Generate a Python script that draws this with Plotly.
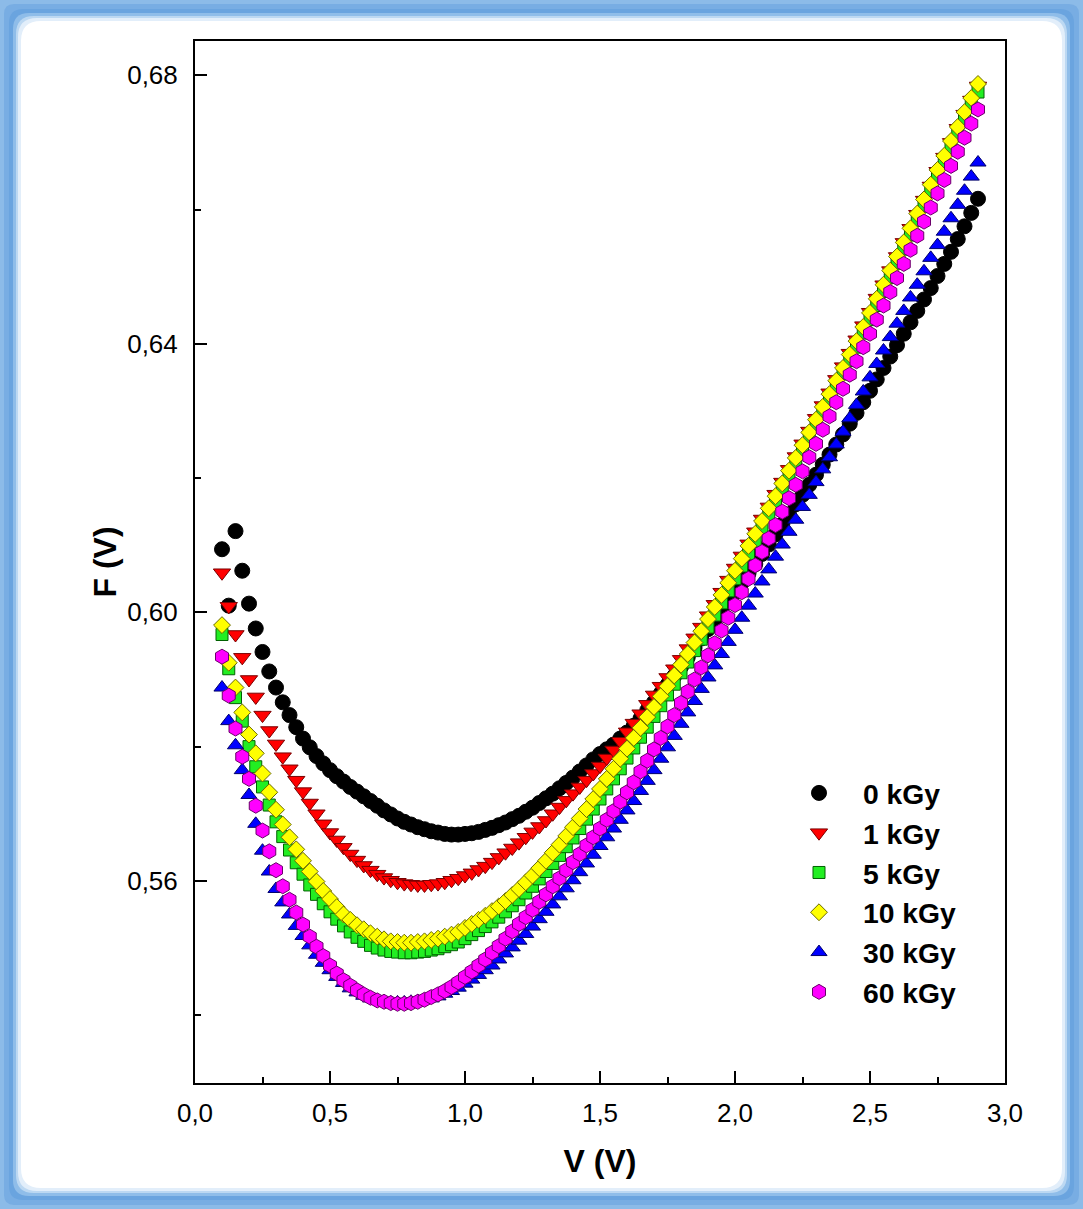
import plotly.graph_objects as go

# ---------------- data ----------------
V_START = 0.1
V_STEP = 0.025

F_0kGy = [
    .6094, .6010, .6121, .6062, .6013, .5976, .5941, .5912, .5888, .5866,
    .5847, .5829, .5812, .5799, .5786, .5775, .5765, .5756, .5748, .5740,
    .5733, .5726, .5719, .5712, .5705, .5699, .5693, .5688, .5684, .5680,
    .5677, .5674, .5672, .5670, .5669, .5669, .5670, .5671, .5673, .5676,
    .5679, .5683, .5687, .5692, .5697, .5703, .5709, .5716, .5723, .5730,
    .5738, .5746, .5754, .5763, .5772, .5781, .5789, .5796, .5803, .5812,
    .5821, .5831, .5842, .5854, .5866, .5879, .5892, .5905, .5919, .5933,
    .5947, .5961, .5975, .5988, .6002, .6016, .6030, .6044, .6058, .6072,
    .6087, .6101, .6116, .6131, .6146, .6161, .6175, .6190, .6205, .6220,
    .6235, .6250, .6265, .6281, .6297, .6313, .6330, .6347, .6364, .6381,
    .6398, .6415, .6432, .6449, .6466, .6483, .6501, .6519, .6537, .6556,
    .6575, .6595, .6616,
]

F_1kGy = [
    .6059, .6009, .5967, .5933, .5900, .5874, .5847, .5824, .5804, .5785,
    .5767, .5750, .5733, .5716, .5700, .5685, .5672, .5661, .5650, .5640,
    .5631, .5623, .5616, .5610, .5605, .5601, .5598, .5596, .5595, .5594,
    .5594, .5595, .5596, .5598, .5601, .5604, .5608, .5612, .5617, .5622,
    .5628, .5635, .5642, .5649, .5657, .5665, .5673, .5681, .5690, .5700,
    .5710, .5720, .5730, .5740, .5750, .5760, .5771, .5783, .5795, .5808,
    .5822, .5835, .5849, .5863, .5877, .5890, .5903, .5916, .5930, .5946,
    .5962, .5978, .5995, .6012, .6030, .6048, .6066, .6084, .6102, .6120,
    .6139, .6157, .6176, .6194, .6213, .6232, .6251, .6270, .6289, .6308,
    .6327, .6347, .6366, .6386, .6406, .6427, .6447, .6468, .6488, .6509,
    .6530, .6551, .6572, .6593, .6614, .6635, .6657, .6678, .6700, .6721,
    .6742, .6763, .6784,
]

F_5kGy = [
    .5967, .5916, .5873, .5838, .5800, .5770, .5740, .5713, .5688, .5666,
    .5646, .5627, .5610, .5594, .5580, .5566, .5554, .5543, .5533, .5524,
    .5516, .5510, .5504, .5500, .5497, .5495, .5494, .5493, .5493, .5494,
    .5495, .5497, .5499, .5502, .5505, .5509, .5514, .5520, .5526, .5532,
    .5539, .5546, .5554, .5563, .5572, .5582, .5592, .5603, .5614, .5626,
    .5638, .5651, .5664, .5678, .5692, .5707, .5722, .5737, .5752, .5767,
    .5783, .5798, .5814, .5829, .5845, .5861, .5877, .5893, .5910, .5926,
    .5943, .5960, .5978, .5996, .6014, .6032, .6050, .6069, .6087, .6106,
    .6125, .6144, .6162, .6181, .6200, .6219, .6238, .6258, .6277, .6296,
    .6316, .6335, .6355, .6375, .6395, .6416, .6436, .6457, .6478, .6499,
    .6520, .6541, .6562, .6584, .6605, .6627, .6648, .6670, .6691, .6712,
    .6733, .6754, .6775,
]

F_10kGy = [
    .5981, .5925, .5888, .5851, .5818, .5790, .5760, .5732, .5706, .5684,
    .5665, .5647, .5630, .5614, .5599, .5585, .5573, .5561, .5550, .5542,
    .5534, .5528, .5522, .5517, .5513, .5510, .5509, .5508, .5508, .5509,
    .5510, .5512, .5514, .5517, .5520, .5524, .5530, .5536, .5542, .5548,
    .5555, .5562, .5570, .5579, .5588, .5598, .5608, .5619, .5630, .5642,
    .5654, .5667, .5680, .5693, .5707, .5722, .5737, .5752, .5767, .5782,
    .5797, .5813, .5828, .5844, .5859, .5875, .5890, .5906, .5922, .5938,
    .5955, .5972, .5990, .6008, .6026, .6044, .6062, .6080, .6099, .6117,
    .6136, .6155, .6173, .6192, .6211, .6230, .6249, .6268, .6287, .6306,
    .6325, .6345, .6364, .6384, .6404, .6425, .6446, .6467, .6488, .6509,
    .6530, .6551, .6572, .6594, .6615, .6637, .6659, .6680, .6702, .6723,
    .6745, .6766, .6787,
]

F_30kGy = [
    .5888, .5838, .5802, .5765, .5728, .5685, .5645, .5614, .5588, .5568,
    .5550, .5533, .5518, .5504, .5490, .5478, .5467, .5457, .5448, .5440,
    .5434, .5429, .5425, .5422, .5420, .5419, .5419, .5419, .5420, .5421,
    .5423, .5425, .5428, .5432, .5436, .5441, .5447, .5453, .5460, .5467,
    .5474, .5483, .5492, .5501, .5511, .5521, .5532, .5543, .5554, .5565,
    .5577, .5589, .5601, .5613, .5626, .5639, .5652, .5665, .5678, .5691,
    .5705, .5719, .5734, .5749, .5765, .5782, .5799, .5816, .5834, .5851,
    .5868, .5886, .5903, .5921, .5938, .5956, .5974, .5992, .6010, .6028,
    .6046, .6064, .6083, .6101, .6120, .6138, .6157, .6175, .6194, .6213,
    .6231, .6250, .6269, .6289, .6309, .6329, .6350, .6370, .6390, .6410,
    .6430, .6449, .6469, .6488, .6508, .6528, .6547, .6567, .6587, .6607,
    .6628, .6649, .6670,
]

F_60kGy = [
    .5934, .5876, .5827, .5785, .5752, .5712, .5675, .5644, .5616, .5592,
    .5572, .5553, .5535, .5517, .5502, .5488, .5474, .5462, .5452, .5444,
    .5437, .5431, .5426, .5422, .5420, .5418, .5417, .5417, .5418, .5420,
    .5423, .5427, .5431, .5436, .5442, .5449, .5457, .5465, .5474, .5483,
    .5493, .5503, .5514, .5525, .5536, .5546, .5557, .5569, .5580, .5592,
    .5604, .5616, .5628, .5640, .5653, .5665, .5678, .5691, .5704, .5718,
    .5732, .5747, .5763, .5779, .5796, .5813, .5830, .5847, .5865, .5882,
    .5900, .5918, .5936, .5954, .5973, .5992, .6011, .6030, .6050, .6070,
    .6090, .6110, .6130, .6150, .6170, .6190, .6210, .6231, .6251, .6272,
    .6292, .6313, .6333, .6354, .6374, .6395, .6415, .6436, .6457, .6477,
    .6498, .6519, .6540, .6561, .6582, .6603, .6624, .6644, .6665, .6686,
    .6707, .6728, .6749,
]

SERIES_NAMES = ["0 kGy", "1 kGy", "5 kGy", "10 kGy", "30 kGy", "60 kGy"]
SERIES_VALUES = [F_0kGy, F_1kGy, F_5kGy, F_10kGy, F_30kGy, F_60kGy]

X_TICK_VALUES = [0.0, 0.5, 1.0, 1.5, 2.0, 2.5, 3.0]
Y_TICK_VALUES = [0.56, 0.60, 0.64, 0.68]

# ---------------- styles ----------------
STYLES = [
    dict(symbol="circle", size=15, color="#000000", line="#000000"),
    dict(symbol="triangle-down", size=15, color="#ff0000", line="#7a0000"),
    dict(symbol="square", size=12, color="#22ee22", line="#006000"),
    dict(symbol="diamond", size=13, color="#ffff00", line="#6a6a00"),
    dict(symbol="triangle-up", size=14, color="#0000ff", line="#00006a"),
    dict(symbol="hexagon", size=15, color="#ff00ff", line="#6a006a"),
]

FONT = "Arial, Liberation Sans, sans-serif"

W, H = 1083, 1209
L, R, T, B = 195, 1005, 41, 1083  # plot area in pixels

fig = go.Figure()

for i, (name, vals, st) in enumerate(zip(SERIES_NAMES, SERIES_VALUES, STYLES)):
    xs = [round(V_START + V_STEP * k, 3) for k in range(len(vals))]
    fig.add_trace(go.Scatter(
        x=xs, y=vals, mode="markers", name=name,
        legendgroup=f"g{i}",
        marker=dict(symbol=st["symbol"], size=st["size"], color=st["color"],
                    line=dict(color=st["line"], width=1)),
    ))


def px2paper_x(px):
    return (px - L) / (R - L)


def px2paper_y(py):
    return (B - py) / (B - T)


def rounded_rect(x0, y0, x1, y1, r):
    def P(x, y):
        return f"{px2paper_x(x):.5f},{px2paper_y(y):.5f}"
    return (f"M {P(x0 + r, y0)} L {P(x1 - r, y0)} Q {P(x1, y0)} {P(x1, y0 + r)} "
            f"L {P(x1, y1 - r)} Q {P(x1, y1)} {P(x1 - r, y1)} "
            f"L {P(x0 + r, y1)} Q {P(x0, y1)} {P(x0, y1 - r)} "
            f"L {P(x0, y0 + r)} Q {P(x0, y0)} {P(x0 + r, y0)} Z")


frame_layers = [
    (0, "#8cbbe8", 0),
    (4, "#78ade3", 10),
    (9, "#6aa4df", 14),
    (13, "#8fbde9", 16),
    (16, "#bcd8f2", 18),
    (18, "#e2eefa", 19),
    (21, "#ffffff", 20),
]
shapes = []
for inset, col, rad in frame_layers:
    shapes.append(dict(
        type="path", xref="paper", yref="paper", layer="below",
        path=rounded_rect(inset, inset, W - inset, H - inset, rad),
        fillcolor=col, line=dict(width=0),
    ))

fig.update_layout(
    width=W, height=H,
    margin=dict(l=L, r=W - R, t=T, b=H - B, pad=0),
    paper_bgcolor="#8cbbe8",
    plot_bgcolor="rgba(0,0,0,0)",
    separators=",.",
    font=dict(family=FONT, color="black"),
    shapes=shapes,
    showlegend=True,
    legend=dict(
        x=px2paper_x(775), y=px2paper_y(768), xanchor="left", yanchor="top",
        bgcolor="rgba(0,0,0,0)", borderwidth=0,
        font=dict(family=FONT, size=28.3, color="black", weight="bold"),
        itemwidth=78, tracegroupgap=0,
    ),
    xaxis=dict(
        range=[0.0, 3.0], showgrid=False, zeroline=False,
        showline=True, linecolor="black", linewidth=2, mirror=True,
        tickmode="array", tickvals=X_TICK_VALUES, tickformat=".1f",
        ticks="inside", ticklen=12, tickwidth=2, tickcolor="black",
        ticklabelstandoff=6,
        minor=dict(dtick=0.25, tick0=0, ticks="inside", ticklen=6,
                   tickwidth=2, tickcolor="black", showgrid=False),
        tickfont=dict(family=FONT, size=26, color="black"),
        title=dict(text="V (V)", standoff=22,
                   font=dict(family=FONT, size=32, color="black", weight="bold")),
    ),
    yaxis=dict(
        range=[0.5299, 0.6851], showgrid=False, zeroline=False,
        showline=True, linecolor="black", linewidth=2, mirror=True,
        tickmode="array", tickvals=Y_TICK_VALUES, tickformat=".2f",
        ticks="inside", ticklen=12, tickwidth=2, tickcolor="black",
        ticklabelstandoff=10,
        minor=dict(dtick=0.02, tick0=0.52, ticks="inside", ticklen=6,
                   tickwidth=2, tickcolor="black", showgrid=False),
        tickfont=dict(family=FONT, size=26, color="black"),
        title=dict(text="F (V)", standoff=1,
                   font=dict(family=FONT, size=32, color="black", weight="bold")),
    ),
)

fig.write_html(
    "out.html",
    config={"displayModeBar": False},
    post_script="document.body.style.margin='0px';document.body.style.overflow='hidden';",
)
